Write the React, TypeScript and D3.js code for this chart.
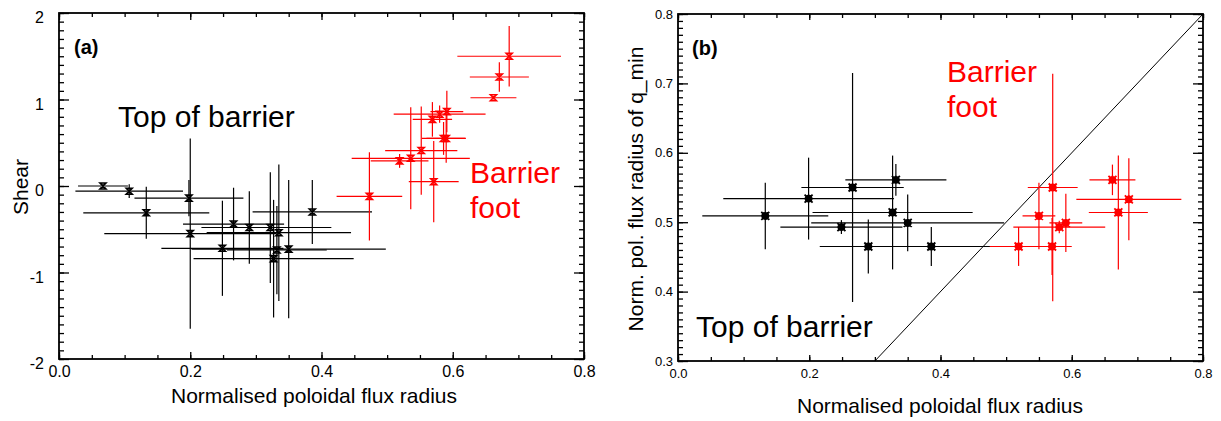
import React, { useEffect, useRef } from 'react'
import * as d3 from 'd3'

// panel (a): shear vs normalised poloidal flux radius
const aBlackX = [0.067, 0.107, 0.133, 0.198, 0.2, 0.266, 0.29, 0.322, 0.335, 0.249, 0.332, 0.35, 0.327, 0.386]
const aBlackY = [0.0, -0.06, -0.31, -0.14, -0.55, -0.44, -0.48, -0.48, -0.54, -0.72, -0.74, -0.73, -0.84, -0.3]
const aBlackXErr = [0.038, 0.082, 0.096, 0.083, 0.131, 0.077, 0.073, 0.093, 0.11, 0.093, 0.076, 0.148, 0.122, 0.091]
const aBlackYErr = [0.03, 0.08, 0.3, 0.21, 1.1, 0.42, 0.42, 0.64, 0.79, 0.55, 0.51, 0.8, 0.68, 0.37]

const aRedX = [0.686, 0.671, 0.662, 0.591, 0.58, 0.569, 0.586, 0.59, 0.552, 0.536, 0.519, 0.571, 0.473]
const aRedY = [1.5, 1.26, 1.02, 0.86, 0.83, 0.77, 0.55, 0.55, 0.41, 0.32, 0.29, 0.05, -0.12]
const aRedXErr = [0.079, 0.045, 0.035, 0.025, 0.07, 0.03, 0.033, 0.03, 0.055, 0.09, 0.044, 0.038, 0.05]
const aRedYErr = [0.35, 0.17, 0.02, 0.24, 0.1, 0.2, 0.19, 0.28, 0.51, 0.59, 0.08, 0.47, 0.51]

// panel (b): radius of q_min vs normalised poloidal flux radius
const bBlackX = [0.133, 0.199, 0.266, 0.332, 0.327, 0.35, 0.249, 0.29, 0.386]
const bBlackY = [0.509, 0.534, 0.55, 0.561, 0.514, 0.499, 0.493, 0.465, 0.465]
const bBlackXErr = [0.096, 0.13, 0.078, 0.077, 0.122, 0.147, 0.093, 0.074, 0.093]
const bBlackYErr = [0.048, 0.059, 0.165, 0.023, 0.082, 0.041, 0.01, 0.039, 0.028]

const bRedX = [0.571, 0.55, 0.581, 0.591, 0.519, 0.57, 0.662, 0.687, 0.671]
const bRedY = [0.55, 0.509, 0.493, 0.499, 0.465, 0.465, 0.561, 0.533, 0.514]
const bRedXErr = [0.038, 0.025, 0.07, 0.025, 0.044, 0.03, 0.035, 0.08, 0.045]
const bRedYErr = [0.164, 0.048, 0.009, 0.042, 0.028, 0.041, 0.022, 0.059, 0.082]

const xTicks = [0, 0.2, 0.4, 0.6, 0.8]
const yTicksA = [-2, -1, 0, 1, 2]
const yTicksB = [0.3, 0.4, 0.5, 0.6, 0.7, 0.8]
const diagonal = [0.3, 0.8]

const FONT = '"Liberation Sans", Arial, Helvetica, sans-serif'

function makeSeries(xs, ys, xe, ye) {
  return xs.map((x, i) => ({ x, y: ys[i], xe: xe[i], ye: ye[i] }))
}

// plain hyphen instead of d3's unicode minus
const intFmt = d => String(Math.round(d))

function drawPanel(svg, cfg) {
  const x = d3.scaleLinear().domain(cfg.xDomain).range([cfg.left, cfg.right])
  const y = d3.scaleLinear().domain(cfg.yDomain).range([cfg.bottom, cfg.top])
  const g = svg.append('g')

  // minor ticks
  const xMinor = d3.range(cfg.xDomain[0], cfg.xDomain[1] + 1e-9, cfg.xMinorStep)
  const yMinor = d3.range(cfg.yDomain[0], cfg.yDomain[1] + 1e-9, cfg.yMinorStep)

  const axes = [
    { ax: d3.axisBottom(x), at: `translate(0,${cfg.bottom})`, vals: xMinor, len: cfg.xMinorLen },
    { ax: d3.axisTop(x), at: `translate(0,${cfg.top})`, vals: xMinor, len: cfg.xMinorLen },
    { ax: d3.axisLeft(y), at: `translate(${cfg.left},0)`, vals: yMinor, len: cfg.yMinorLen },
    { ax: d3.axisRight(y), at: `translate(${cfg.right},0)`, vals: yMinor, len: cfg.yMinorLen },
  ]
  axes.forEach(a => {
    g.append('g')
      .attr('transform', a.at)
      .call(a.ax.tickValues(a.vals).tickSize(-a.len).tickFormat(() => ''))
  })

  // major ticks, labels only bottom/left
  g.append('g')
    .attr('transform', `translate(0,${cfg.bottom})`)
    .call(d3.axisBottom(x).tickValues(xTicks).tickSize(-cfg.xMajorLen).tickPadding(cfg.xPad).tickFormat(d3.format('.1f')))
  g.append('g')
    .attr('transform', `translate(0,${cfg.top})`)
    .call(d3.axisTop(x).tickValues(xTicks).tickSize(-cfg.xMajorLen).tickFormat(() => ''))
  g.append('g')
    .attr('transform', `translate(${cfg.left},0)`)
    .call(d3.axisLeft(y).tickValues(cfg.yTicks).tickSize(-cfg.yMajorLen).tickPadding(cfg.yPad).tickFormat(cfg.yFormat))
    .call(s => s.selectAll('text').attr('dy', cfg.yDy))
  g.append('g')
    .attr('transform', `translate(${cfg.right},0)`)
    .call(d3.axisRight(y).tickValues(cfg.yTicks).tickSize(-cfg.yMajorLen).tickFormat(() => ''))

  g.selectAll('.domain').remove()
  g.selectAll('.tick line').attr('stroke', '#000').attr('stroke-width', 1.3)
  g.selectAll('.tick text')
    .attr('fill', '#000')
    .style('font-family', FONT)
    .style('font-size', cfg.tickFont + 'px')

  // frame
  g.append('rect')
    .attr('x', cfg.left).attr('y', cfg.top)
    .attr('width', cfg.right - cfg.left).attr('height', cfg.bottom - cfg.top)
    .attr('fill', 'none').attr('stroke', '#000').attr('stroke-width', 1.8)

  if (cfg.diagonal) {
    g.append('line')
      .attr('x1', x(cfg.diagonal[0])).attr('y1', y(cfg.diagonal[0]))
      .attr('x2', x(cfg.diagonal[1])).attr('y2', y(cfg.diagonal[1]))
      .attr('stroke', '#000').attr('stroke-width', 1)
  }

  cfg.series.forEach(s => {
    const sg = g.append('g').attr('stroke', s.color).attr('fill', 'none')
    sg.selectAll('line.h').data(s.data).enter().append('line')
      .attr('x1', d => x(d.x - d.xe)).attr('x2', d => x(d.x + d.xe))
      .attr('y1', d => y(d.y)).attr('y2', d => y(d.y))
      .attr('stroke-width', 1.2)
    sg.selectAll('line.v').data(s.data).enter().append('line')
      .attr('x1', d => x(d.x)).attr('x2', d => x(d.x))
      .attr('y1', d => y(d.y - d.ye)).attr('y2', d => y(d.y + d.ye))
      .attr('stroke-width', 1.2)
    sg.selectAll('path.m').data(s.data).enter().append('path')
      .attr('transform', d => `translate(${x(d.x)},${y(d.y)})`)
      .attr('d', cfg.marker)
      .attr('stroke-width', cfg.markerWidth)
  })

  // titles
  svg.append('text')
    .attr('x', cfg.xTitlePos[0]).attr('y', cfg.xTitlePos[1])
    .attr('text-anchor', 'middle')
    .style('font-family', FONT).style('font-size', '21px')
    .text('Normalised poloidal flux radius')
  svg.append('text')
    .attr('transform', `translate(${cfg.yTitlePos[0]},${cfg.yTitlePos[1]}) rotate(-90)`)
    .attr('text-anchor', 'middle')
    .style('font-family', FONT).style('font-size', '21px')
    .text(cfg.yTitle)

  svg.append('text')
    .attr('x', cfg.tag[0]).attr('y', cfg.tag[1])
    .style('font-family', FONT).style('font-size', '20px').style('font-weight', 'bold')
    .text(cfg.tagText)

  svg.append('text')
    .attr('x', cfg.topText[0]).attr('y', cfg.topText[1])
    .style('font-family', FONT).style('font-size', '30px')
    .text('Top of barrier')

  const foot = svg.append('text')
    .style('font-family', FONT).style('font-size', '30px').attr('fill', '#ff0000')
  foot.append('tspan').attr('x', cfg.footText[0]).attr('y', cfg.footText[1]).text('Barrier')
  foot.append('tspan').attr('x', cfg.footText[0]).attr('y', cfg.footText[1] + 35).text('foot')
}

export default function App() {
  const ref = useRef(null)

  useEffect(() => {
    const svg = d3.select(ref.current)
    svg.selectAll('*').remove()

    drawPanel(svg, {
      left: 59, right: 584, top: 13, bottom: 359,
      xDomain: [0, 0.8], yDomain: [-2, 2],
      xMinorStep: 0.05, yMinorStep: 0.1,
      xMajorLen: 7, xMinorLen: 4, yMajorLen: 10, yMinorLen: 5,
      yTicks: yTicksA, yFormat: intFmt, yDy: '0.6em',
      xPad: 7, yPad: 15, tickFont: 16,
      marker: 'M-3,-3L3,-3L-3,3L3,3Z',
      markerWidth: 1.6,
      series: [
        { color: '#000', data: makeSeries(aBlackX, aBlackY, aBlackXErr, aBlackYErr) },
        { color: '#ff0000', data: makeSeries(aRedX, aRedY, aRedXErr, aRedYErr) },
      ],
      xTitlePos: [314, 403], yTitlePos: [28, 187], yTitle: 'Shear',
      tag: [74, 54], tagText: '(a)',
      topText: [118, 127], footText: [470, 183],
    })

    drawPanel(svg, {
      left: 678, right: 1203, top: 14, bottom: 361,
      xDomain: [0, 0.8], yDomain: [0.3, 0.8],
      xMinorStep: 0.05, yMinorStep: 0.01,
      xMajorLen: 6, xMinorLen: 4, yMajorLen: 10, yMinorLen: 5,
      yTicks: yTicksB, yFormat: d3.format('.1f'), yDy: '0.32em',
      xPad: 8, yPad: 5, tickFont: 13,
      marker: 'M-4,-4L4,4M-4,4L4,-4M-4,0L4,0M0,-4L0,4M3,0A3,3 0 1,1 -3,0A3,3 0 1,1 3,0',
      markerWidth: 1.8,
      series: [
        { color: '#000', data: makeSeries(bBlackX, bBlackY, bBlackXErr, bBlackYErr) },
        { color: '#ff0000', data: makeSeries(bRedX, bRedY, bRedXErr, bRedYErr) },
      ],
      diagonal: diagonal,
      xTitlePos: [940, 413], yTitlePos: [643, 189], yTitle: 'Norm. pol. flux radius of q_min',
      tag: [692, 55], tagText: '(b)',
      topText: [696, 337], footText: [947, 82],
    })
  }, [])

  return (
    <svg
      ref={ref}
      width={1221}
      height={421}
      style={{ position: 'absolute', left: 0, top: 0, background: '#fff' }}
    />
  )
}
